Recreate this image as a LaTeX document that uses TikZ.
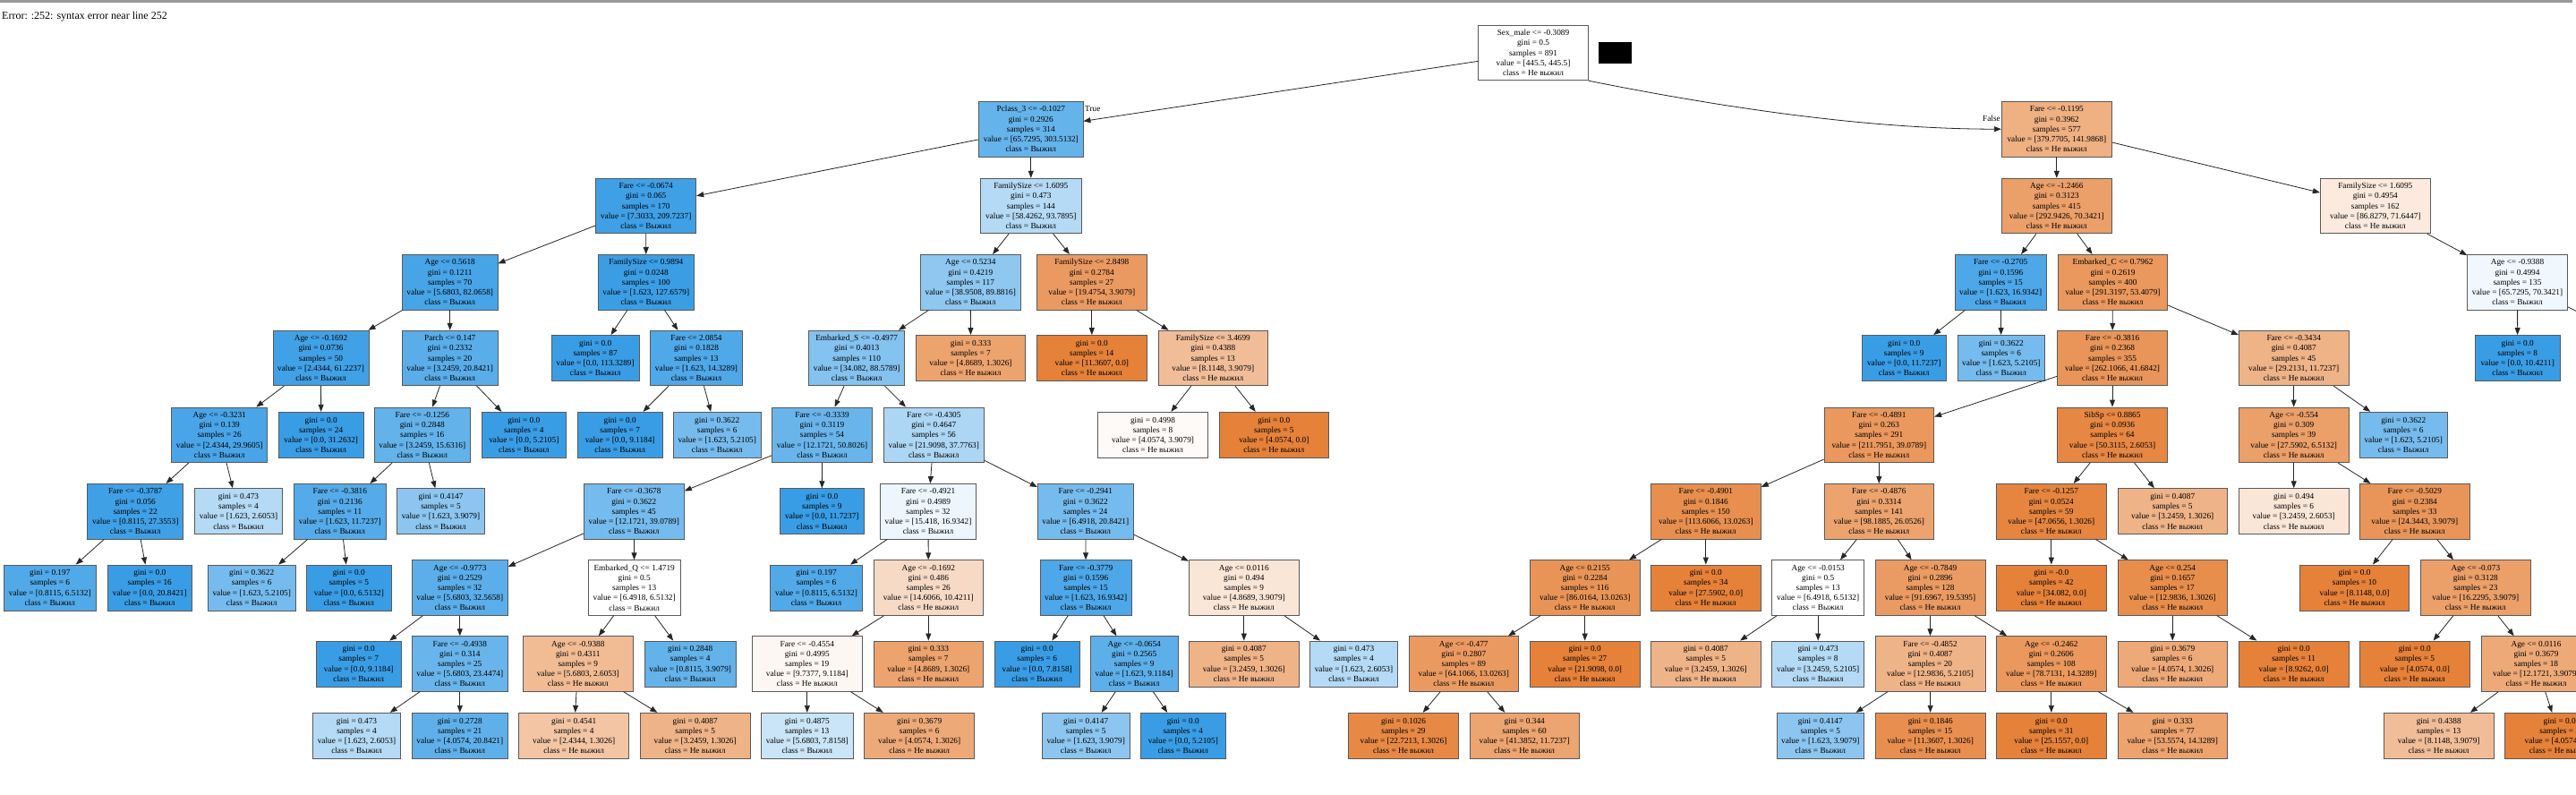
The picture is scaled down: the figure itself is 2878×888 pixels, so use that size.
\documentclass[tikz,border=0pt]{standalone}
\usepackage{fontspec}
\setmainfont{Liberation Serif}
\usetikzlibrary{arrows.meta}
\definecolor{co}{RGB}{229,129,57}
\definecolor{cb}{RGB}{57,157,229}
\newcommand{\dtfont}{\fontsize{9.3pt}{11.2pt}\selectfont}
\tikzset{
  box/.style={draw=black!65, line width=0.9pt, rectangle, align=center, inner xsep=0pt, inner ysep=0pt, font=\dtfont, text=black},
  int/.style={minimum height=61.5pt},
  leaf/.style={minimum height=51pt},
  edge/.style={draw=black!85, line width=0.8pt, -{Triangle[length=8pt,width=6pt]}},
  lbl/.style={font=\dtfont, inner sep=0pt}
}
\newcommand{\nIS}[9]{\node[box,int,fill=cb!#2,minimum width=#5pt] (#1) at (#3,#4) {#6\\gini = #7\\samples = #8\\value = [#9]\\class = Выжил};}
\newcommand{\nIN}[9]{\node[box,int,fill=co!#2,minimum width=#5pt] (#1) at (#3,#4) {#6\\gini = #7\\samples = #8\\value = [#9]\\class = Не выжил};}
\newcommand{\nLS}[8]{\node[box,leaf,fill=cb!#2,minimum width=#5pt] (#1) at (#3,#4) {gini = #6\\samples = #7\\value = [#8]\\class = Выжил};}
\newcommand{\nLN}[8]{\node[box,leaf,fill=co!#2,minimum width=#5pt] (#1) at (#3,#4) {gini = #6\\samples = #7\\value = [#8]\\class = Не выжил};}
\begin{document}
\begin{tikzpicture}[x=1pt,y=-1pt]
\useasboundingbox (0,0) rectangle (2878,888);
\clip (0,0) rectangle (2878,888);
\fill[white] (0,0) rectangle (2878,888);
\fill[black!40] (0,0) rectangle (2874,2.7);
\node[anchor=base west, font=\fontsize{12pt}{14pt}\selectfont, inner sep=0pt] (err) at (2,21.7) {Error: :252: syntax error near line 252};
\fill[black] (1786,46.7) rectangle (1822.7,71.3);

% Level 0
\nIN{R}{0}{1713}{59}{122.6}{Sex\_male <= -0.3089}{0.5}{891}{445.5, 445.5}
% Level 1
\nIS{A}{78}{1151.8}{144.2}{116.3}{Pclass\_3 <= -0.1027}{0.2926}{314}{65.7295, 303.5132}
\nIN{B}{63}{2297.8}{144.2}{123}{Fare <= -0.1195}{0.3962}{577}{379.7705, 141.9868}
% Level 2
\nIS{A1}{97}{721.7}{230}{112}{Fare <= -0.0674}{0.065}{170}{7.3033, 209.7237}
\nIS{A2}{38}{1151.8}{230}{112.3}{FamilySize <= 1.6095}{0.473}{144}{58.4262, 93.7895}
\nIN{B1}{76}{2297.8}{230}{123}{Age <= -1.2466}{0.3123}{415}{292.9426, 70.3421}
\nIN{B2}{17}{2653.8}{230}{123}{FamilySize <= 1.6095}{0.4954}{162}{86.8279, 71.6447}
% Level 3
\nIS{A1a}{93}{502.7}{315.2}{106.7}{Age <= 0.5618}{0.1211}{70}{5.6803, 82.0658}
\nIS{A1b}{99}{721.8}{315.2}{107}{FamilySize <= 0.9894}{0.0248}{100}{1.623, 127.6579}
\nIS{A2a}{57}{1084.3}{315.2}{112}{Age <= 0.5234}{0.4219}{117}{38.9508, 89.8816}
\nIN{A2b}{80}{1219.8}{315.2}{123}{FamilySize <= 2.8498}{0.2784}{27}{19.4754, 3.9079}
\nIS{B1a}{90}{2235.2}{315.2}{102.3}{Fare <= -0.2705}{0.1596}{15}{1.623, 16.9342}
\nIN{B1b}{82}{2360.5}{315.2}{122.4}{Embarked\_C <= 0.7962}{0.2619}{400}{291.3197, 53.4079}
\nIS{B2a}{7}{2812.5}{315.2}{111.6}{Age <= -0.9388}{0.4994}{135}{65.7295, 70.3421}
% Level 4
\nIS{A1a1}{96}{358.5}{400}{107}{Age <= -0.1692}{0.0736}{50}{2.4344, 61.2237}
\nIS{A1a2}{84}{502.7}{400}{106.7}{Parch <= 0.147}{0.2332}{20}{3.2459, 20.8421}
\nLS{A1b1}{100}{665.2}{400}{97.7}{0.0}{87}{0.0, 113.3289}
\nIS{A1b2}{89}{778}{400}{102.6}{Fare <= 2.0854}{0.1828}{13}{1.623, 14.3289}
\nIS{A2a1}{62}{957.2}{400}{107}{Embarked\_S <= -0.4977}{0.4013}{110}{34.082, 88.5789}
\nLN{A2a2}{73}{1084.5}{400}{122.4}{0.333}{7}{4.8689, 1.3026}
\nLN{A2b1}{100}{1219.8}{400}{123}{0.0}{14}{11.3607, 0.0}
\nIN{A2b2}{52}{1355.3}{400}{122.7}{FamilySize <= 3.4699}{0.4388}{13}{8.1148, 3.9079}
\nLS{B1a1}{100}{2127.2}{400}{94.3}{0.0}{9}{0.0, 11.7237}
\nLS{B1a2}{69}{2235.8}{400}{97.7}{0.3622}{6}{1.623, 5.2105}
\nIN{B1b1}{84}{2360}{400}{123.4}{Fare <= -0.3816}{0.2368}{355}{262.1066, 41.6842}
\nIN{B1b2}{60}{2562.7}{400}{122.7}{Fare <= -0.3434}{0.4087}{45}{29.2131, 11.7237}
\nLS{B2a1}{100}{2812.7}{400}{94.7}{0.0}{8}{0.0, 10.4211}
\coordinate (B2aR) at (2985,400);
% Level 5
\nIS{n5a}{92}{245.2}{485.8}{107}{Age <= -0.3231}{0.139}{26}{2.4344, 29.9605}
\nLS{n5b}{100}{358.7}{485.8}{94.7}{0.0}{24}{0.0, 31.2632}
\nIS{n5c}{79}{471.8}{485.8}{107}{Fare <= -0.1256}{0.2848}{16}{3.2459, 15.6316}
\nLS{n5d}{100}{585.3}{485.8}{94.7}{0.0}{4}{0.0, 5.2105}
\nLS{n5e}{100}{692.7}{485.8}{94.7}{0.0}{7}{0.0, 9.1184}
\nLS{n5f}{69}{801.2}{485.8}{97.7}{0.3622}{6}{1.623, 5.2105}
\nIS{n5g}{76}{918.5}{485.8}{112.4}{Fare <= -0.3339}{0.3119}{54}{12.1721, 50.8026}
\nIS{n5h}{42}{1043.3}{485.8}{112}{Fare <= -0.4305}{0.4647}{56}{21.9098, 37.7763}
\nLN{n5i}{4}{1288}{485.8}{122.6}{0.4998}{8}{4.0574, 3.9079}
\nLN{n5j}{100}{1423.3}{485.8}{122.7}{0.0}{5}{4.0574, 0.0}
\nIN{n5k}{82}{2099.3}{485.8}{122.7}{Fare <= -0.4891}{0.263}{291}{211.7951, 39.0789}
\nIN{n5l}{95}{2360}{485.8}{123.4}{SibSp <= 0.8865}{0.0936}{64}{50.3115, 2.6053}
\nIN{n5m}{76}{2562.7}{485.8}{122.7}{Age <= -0.554}{0.309}{39}{27.5902, 6.5132}
\nLS{n5n}{69}{2685.2}{485.8}{97.7}{0.3622}{6}{1.623, 5.2105}
% Level 6
\nIS{n6a}{97}{151.2}{571.2}{107}{Fare <= -0.3787}{0.056}{22}{0.8115, 27.3553}
\nLS{n6b}{38}{266.5}{571.2}{97.6}{0.473}{4}{1.623, 2.6053}
\nIS{n6c}{86}{379.8}{571.2}{103}{Fare <= -0.3816}{0.2136}{11}{1.623, 11.7237}
\nLS{n6d}{58}{492.5}{571.2}{97.6}{0.4147}{5}{1.623, 3.9079}
\nIS{n6e}{69}{708.3}{571.2}{112}{Fare <= -0.3678}{0.3622}{45}{12.1721, 39.0789}
\nLS{n6f}{100}{918.3}{571.2}{94.7}{0.0}{9}{0.0, 11.7237}
\nIS{n6g}{9}{1037}{571.2}{107.4}{Fare <= -0.4921}{0.4989}{32}{15.418, 16.9342}
\nIS{n6h}{69}{1212.8}{571.2}{107}{Fare <= -0.2941}{0.3622}{24}{6.4918, 20.8421}
\nIN{n6i}{89}{1905.8}{571.2}{123}{Fare <= -0.4901}{0.1846}{150}{113.6066, 13.0263}
\nIN{n6j}{73}{2099.3}{571.2}{122.7}{Fare <= -0.4876}{0.3314}{141}{98.1885, 26.0526}
\nIN{n6k}{97}{2291.8}{571.2}{123}{Fare <= -0.1257}{0.0524}{59}{47.0656, 1.3026}
\nLN{n6l}{60}{2427.2}{571.2}{122.3}{0.4087}{5}{3.2459, 1.3026}
\nLN{n6m}{20}{2562.7}{571.2}{122.7}{0.494}{6}{3.2459, 2.6053}
\nIN{n6n}{84}{2697.8}{571.2}{123}{Fare <= -0.5029}{0.2384}{33}{24.3443, 3.9079}
% Level 7
\nLS{n7a}{88}{55.8}{656.5}{103}{0.197}{6}{0.8115, 6.5132}
\nLS{n7b}{100}{167.3}{656.5}{94.7}{0.0}{16}{0.0, 20.8421}
\nLS{n7c}{69}{281.2}{656.5}{97.7}{0.3622}{6}{1.623, 5.2105}
\nLS{n7d}{100}{389.8}{656.5}{95}{0.0}{5}{0.0, 6.5132}
\nIS{n7e}{83}{513.8}{656.5}{107}{Age <= -0.9773}{0.2529}{32}{5.6803, 32.5658}
\nIS{n7f}{0}{708.7}{656.5}{102.7}{Embarked\_Q <= 1.4719}{0.5}{13}{6.4918, 6.5132}
\nLS{n7g}{88}{912}{656.5}{102.6}{0.197}{6}{0.8115, 6.5132}
\nIN{n7h}{29}{1037.3}{656.5}{122.7}{Age <= -0.1692}{0.486}{26}{14.6066, 10.4211}
\nIS{n7i}{90}{1213.2}{656.5}{102.3}{Fare <= -0.3779}{0.1596}{15}{1.623, 16.9342}
\nIN{n7j}{20}{1389.8}{656.5}{123}{Age <= 0.0116}{0.494}{9}{4.8689, 3.9079}
\nIN{n7k}{85}{1770.7}{656.5}{122.7}{Age <= 0.2155}{0.2284}{116}{86.0164, 13.0263}
\nLN{n7l}{100}{1905.8}{656.5}{123}{0.0}{34}{27.5902, 0.0}
\nIS{n7m}{0}{2031.2}{656.5}{103}{Age <= -0.0153}{0.5}{13}{6.4918, 6.5132}
\nIN{n7n}{79}{2156.5}{656.5}{123}{Age <= -0.7849}{0.2896}{128}{91.6967, 19.5395}
\nLN{n7o}{100}{2291.8}{656.5}{123}{-0.0}{42}{34.082, 0.0}
\nIN{n7p}{90}{2427.2}{656.5}{122.3}{Age <= 0.254}{0.1657}{17}{12.9836, 1.3026}
\nLN{n7q}{100}{2630.5}{656.5}{122.4}{0.0}{10}{8.1148, 0.0}
\nIN{n7r}{76}{2765.8}{656.5}{123}{Age <= -0.073}{0.3128}{23}{16.2295, 3.9079}
% Level 8
\nLS{n8a}{100}{400.7}{741.5}{94.7}{0.0}{7}{0.0, 9.1184}
\nIS{n8b}{76}{513.8}{741.5}{107}{Fare <= -0.4938}{0.314}{25}{5.6803, 23.4474}
\nIN{n8c}{54}{645.8}{741.5}{123}{Age <= -0.9388}{0.4311}{9}{5.6803, 2.6053}
\nLS{n8d}{79}{771.2}{741.5}{102.3}{0.2848}{4}{0.8115, 3.9079}
\nIN{n8e}{6}{901.8}{741.5}{123}{Fare <= -0.4554}{0.4995}{19}{9.7377, 9.1184}
\nLN{n8f}{73}{1037.3}{741.5}{122.7}{0.333}{7}{4.8689, 1.3026}
\nLS{n8g}{100}{1158.7}{741.5}{94.7}{0.0}{6}{0.0, 7.8158}
\nIS{n8h}{82}{1267.2}{741.5}{97.7}{Age <= -0.0654}{0.2565}{9}{1.623, 9.1184}
\nLN{n8i}{60}{1389.8}{741.5}{123}{0.4087}{5}{3.2459, 1.3026}
\nLS{n8j}{38}{1512.5}{741.5}{97.6}{0.473}{4}{1.623, 2.6053}
\nIN{n8k}{80}{1635.3}{741.5}{122.7}{Age <= -0.477}{0.2807}{89}{64.1066, 13.0263}
\nLN{n8l}{100}{1770.7}{741.5}{122.7}{0.0}{27}{21.9098, 0.0}
\nLN{n8m}{60}{1905.8}{741.5}{123}{0.4087}{5}{3.2459, 1.3026}
\nLS{n8n}{38}{2031.2}{741.5}{103}{0.473}{8}{3.2459, 5.2105}
\nIN{n8o}{60}{2156.5}{741.5}{123}{Fare <= -0.4852}{0.4087}{20}{12.9836, 5.2105}
\nIN{n8p}{82}{2291.8}{741.5}{123}{Age <= -0.2462}{0.2606}{108}{78.7131, 14.3289}
\nLN{n8q}{68}{2427.2}{741.5}{122.3}{0.3679}{6}{4.0574, 1.3026}
\nLN{n8r}{100}{2562.7}{741.5}{122.7}{0.0}{11}{8.9262, 0.0}
\nLN{n8s}{100}{2697.8}{741.5}{123}{0.0}{5}{4.0574, 0.0}
\nIN{n8t}{68}{2833.5}{741.5}{123}{Age <= 0.0116}{0.3679}{18}{12.1721, 3.9079}
% Level 9
\nLS{n9a}{38}{398.5}{821.8}{97.6}{0.473}{4}{1.623, 2.6053}
\nLS{n9b}{81}{513.8}{821.8}{107}{0.2728}{21}{4.0574, 20.8421}
\nLN{n9c}{46}{641.2}{821.8}{123}{0.4541}{4}{2.4344, 1.3026}
\nLN{n9d}{60}{776.7}{821.8}{122.7}{0.4087}{5}{3.2459, 1.3026}
\nLS{n9e}{27}{901.8}{821.8}{103}{0.4875}{13}{5.6803, 7.8158}
\nLN{n9f}{68}{1027.2}{821.8}{123}{0.3679}{6}{4.0574, 1.3026}
\nLS{n9g}{58}{1213.2}{821.8}{97.7}{0.4147}{5}{1.623, 3.9079}
\nLS{n9h}{100}{1321.8}{821.8}{95}{0.0}{4}{0.0, 5.2105}
\nLN{n9i}{94}{1568}{821.8}{122.6}{0.1026}{29}{22.7213, 1.3026}
\nLN{n9j}{72}{1703.2}{821.8}{122.3}{0.344}{60}{41.3852, 11.7237}
\nLS{n9k}{58}{2033.8}{821.8}{97.7}{0.4147}{5}{1.623, 3.9079}
\nLN{n9l}{89}{2156.7}{821.8}{122.7}{0.1846}{15}{11.3607, 1.3026}
\nLN{n9m}{100}{2291.8}{821.8}{123}{0.0}{31}{25.1557, 0.0}
\nLN{n9n}{73}{2427.2}{821.8}{122.3}{0.333}{77}{53.5574, 14.3289}
\nLN{n9o}{52}{2724.7}{821.8}{122.7}{0.4388}{13}{8.1148, 3.9079}
\nLN{n9p}{100}{2859.7}{821.8}{123}{0.0}{5}{4.0574, 0.0}

% labels
\node[lbl, anchor=west] (tl) at (1212,122) {True};
\node[lbl, anchor=east] (fl) at (2235,132) {False};

% edges
\draw[edge] (R) -- (A);
\draw[edge] (R.south east) .. controls +(150,30) and +(-150,0) .. (B.west);
\foreach \p/\c in {A/A1, A/A2, B/B1, B/B2,
  A1/A1a, A1/A1b, A2/A2a, A2/A2b, B1/B1a, B1/B1b, B2/B2a,
  A1a/A1a1, A1a/A1a2, A1b/A1b1, A1b/A1b2, A2a/A2a1, A2a/A2a2, A2b/A2b1, A2b/A2b2,
  B1a/B1a1, B1a/B1a2, B1b/B1b1, B1b/B1b2, B2a/B2a1,
  A1a1/n5a, A1a1/n5b, A1a2/n5c, A1a2/n5d, A1b2/n5e, A1b2/n5f, A2a1/n5g, A2a1/n5h,
  A2b2/n5i, A2b2/n5j, B1b1/n5k, B1b1/n5l, B1b2/n5m, B1b2/n5n,
  n5a/n6a, n5a/n6b, n5c/n6c, n5c/n6d, n5g/n6e, n5g/n6f, n5h/n6g, n5h/n6h,
  n5k/n6i, n5k/n6j, n5l/n6k, n5l/n6l, n5m/n6m, n5m/n6n,
  n6a/n7a, n6a/n7b, n6c/n7c, n6c/n7d, n6e/n7e, n6e/n7f, n6g/n7g, n6g/n7h,
  n6h/n7i, n6h/n7j, n6i/n7k, n6i/n7l, n6j/n7m, n6j/n7n, n6k/n7o, n6k/n7p,
  n6n/n7q, n6n/n7r,
  n7e/n8a, n7e/n8b, n7f/n8c, n7f/n8d, n7h/n8e, n7h/n8f, n7i/n8g, n7i/n8h,
  n7j/n8i, n7j/n8j, n7k/n8k, n7k/n8l, n7m/n8m, n7m/n8n, n7n/n8o, n7n/n8p,
  n7p/n8q, n7p/n8r, n7r/n8s, n7r/n8t,
  n8b/n9a, n8b/n9b, n8c/n9c, n8c/n9d, n8e/n9e, n8e/n9f, n8h/n9g, n8h/n9h,
  n8k/n9i, n8k/n9j, n8o/n9k, n8o/n9l, n8p/n9m, n8p/n9n, n8t/n9o, n8t/n9p}
  {\draw[edge] (\p) -- (\c);}
\draw[edge] (B2a) -- (B2aR);
\end{tikzpicture}
\end{document}
